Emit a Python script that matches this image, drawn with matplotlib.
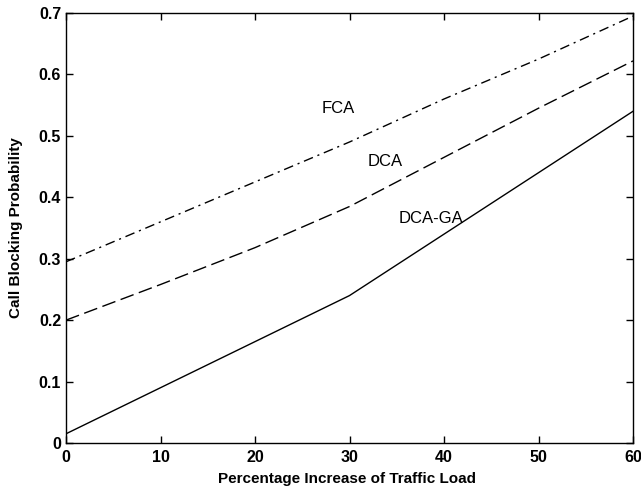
import matplotlib
matplotlib.use("Agg")
import matplotlib.pyplot as plt

# 数据：交通负载增加百分比 vs 呼叫阻塞概率
load_pct = [0, 10, 20, 30, 40, 50, 60]
fca = [0.295, 0.36, 0.425, 0.49, 0.56, 0.625, 0.695]
dca = [0.20, 0.258, 0.318, 0.385, 0.465, 0.545, 0.622]
dca_ga = [0.015, 0.09, 0.165, 0.24, 0.34, 0.44, 0.54]

plt.rcParams["font.family"] = ["Liberation Sans", "DejaVu Sans"]

fig = plt.figure(figsize=(6.41, 4.90), dpi=100)
ax = fig.add_axes([66 / 641, 1 - 443 / 490, (633 - 66) / 641, (443 - 13) / 490])

ax.plot(load_pct, fca, color="black", linewidth=1.0, dashes=(7, 3.5, 1.5, 3.5))
ax.plot(load_pct, dca, color="black", linewidth=1.0, dashes=(10, 4))
ax.plot(load_pct, dca_ga, color="black", linewidth=1.0)

ax.text(28.8, 0.544, "FCA", fontsize=12, ha="center", va="center")
ax.text(33.8, 0.458, "DCA", fontsize=12, ha="center", va="center")
ax.text(38.6, 0.366, "DCA-GA", fontsize=12, ha="center", va="center")

ax.set_xlim(0, 60)
ax.set_ylim(0, 0.7)
ax.set_xticks([0, 10, 20, 30, 40, 50, 60])
ax.set_yticks([0, 0.1, 0.2, 0.3, 0.4, 0.5, 0.6, 0.7])
ax.set_yticklabels(["0", "0.1", "0.2", "0.3", "0.4", "0.5", "0.6", "0.7"])
ax.tick_params(direction="in", top=True, right=True, length=5, width=1.0, labelsize=11.5)
ax.tick_params(axis="x", pad=5)
for lbl in ax.get_xticklabels() + ax.get_yticklabels():
    lbl.set_fontweight("bold")
for sp in ax.spines.values():
    sp.set_linewidth(1.0)

ax.set_xlabel("Percentage Increase of Traffic Load", fontsize=11, fontweight="bold")
ax.set_ylabel("Call Blocking Probability", fontsize=11, fontweight="bold")
ax.xaxis.set_label_coords(0.495, -0.068)
ax.yaxis.set_label_coords(-0.076, 0.5)

fig.savefig("out.png", dpi=100)
